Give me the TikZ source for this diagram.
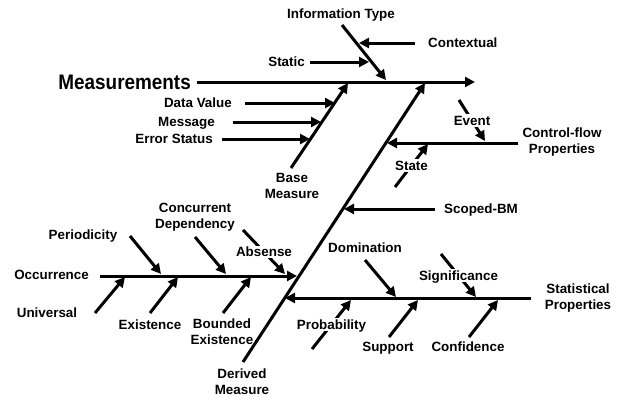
\documentclass[tikz,border=0pt]{standalone}
\usepackage{fontspec}
\setmainfont{Liberation Sans}
\newfontfamily\measfont[FakeStretch=0.9]{Liberation Sans}
\usepackage{tikz}
\usetikzlibrary{arrows.meta}

\begin{document}
\begin{tikzpicture}[x=1pt,y=1pt]
              \tikzstyle{every node}+=[inner sep=0pt]
              \tikzstyle{bone}=[black,line width=3pt,-{Triangle[length=10pt,width=10pt]}]
              \tikzstyle{lbl}=[font=\fontsize{13.4}{16}\selectfont\bfseries,align=center,text height=9.6pt,text depth=0pt]
              \tikzstyle{lbltwo}=[font=\fontsize{13.4}{16}\selectfont\bfseries,align=center]
              \tikzstyle{cut}=[lbl,fill=white,inner sep=1.5pt]
              \useasboundingbox (0,0) rectangle (621,-399);
              % heads and tails of the bones
              \coordinate (head) at (475,-82);
              \coordinate (it1) at (342,-25);
              \coordinate (it2) at (386,-80);
              \coordinate (bm1) at (291,-168);
              \coordinate (bm2) at (348,-83);
              \coordinate (dm1) at (243,-362);
              \coordinate (dm2) at (425,-83);
              \coordinate (ct) at (359,-43);
              \coordinate (st) at (369,-62);
              \coordinate (dv) at (335,-103);
              \coordinate (ms) at (321,-122);
              \coordinate (es) at (310,-139);
              \coordinate (cf) at (387,-143);
              \coordinate (ev1) at (459,-100);
              \coordinate (ev2) at (485,-141);
              \coordinate (sa1) at (395,-187);
              \coordinate (sa2) at (428,-144);
              \coordinate (sc) at (344,-209);
              \coordinate (sp) at (285,-298);
              \coordinate (dn1) at (365,-260);
              \coordinate (dn2) at (396,-297);
              \coordinate (sg1) at (441,-254);
              \coordinate (sg2) at (476,-297);
              \coordinate (pb1) at (312,-349);
              \coordinate (pb2) at (351,-300);
              \coordinate (su1) at (389,-337);
              \coordinate (su2) at (418,-300);
              \coordinate (cn1) at (469,-337);
              \coordinate (cn2) at (498,-300);
              \coordinate (oc) at (297,-276);
              \coordinate (pd1) at (130,-236);
              \coordinate (pd2) at (161,-274);
              \coordinate (cd1) at (195,-237);
              \coordinate (cd2) at (226,-274);
              \coordinate (ab1) at (243,-230);
              \coordinate (ab2) at (285,-274);
              \coordinate (un1) at (95,-313);
              \coordinate (un2) at (125,-277);
              \coordinate (ex1) at (150,-313);
              \coordinate (ex2) at (178,-277);
              \coordinate (be1) at (223,-313);
              \coordinate (be2) at (251,-277);
              % labels
              \node [anchor=east,font=\fontsize{21}{24}\measfont\bfseries] (meas) at (191,-82) {Measurements};
              \node [lbl] (infotype) at (341,-14) {Information Type};
              \node [lbl,anchor=west] (contextual) at (428,-43) {Contextual};
              \node [lbl,anchor=east] (static) at (305,-62) {Static};
              \node [lbl,anchor=east] (dataval) at (232,-103) {Data Value};
              \node [lbl,anchor=east] (message) at (215,-122) {Message};
              \node [lbl,anchor=east] (errstat) at (213,-139) {Error Status};
              \node [lbltwo] (basem) at (292,-186) {Base\\Measure};
              \node [lbltwo] (derivedm) at (242,-382) {Derived\\Measure};
              \node [lbltwo] (cflow) at (562,-142) {Control-flow\\Properties};
              \node [lbl,anchor=west] (scoped) at (444,-209) {Scoped-BM};
              \node [lbltwo] (stat) at (578,-298) {Statistical\\Properties};
              \node [lbl] (domin) at (365,-248) {Domination};
              \node [lbl] (support) at (388,-347) {Support};
              \node [lbl] (confid) at (468,-347) {Confidence};
              \node [lbl,anchor=east] (occur) at (89,-275) {Occurrence};
              \node [lbl] (period) at (83,-235) {Periodicity};
              \node [lbltwo] (concdep) at (195,-217) {Concurrent\\Dependency};
              \node [lbl] (universal) at (47,-313) {Universal};
              \node [lbl] (exist) at (150,-325) {Existence};
              \node [lbltwo] (boundex) at (222,-332) {Bounded\\Existence};
              % spine and bones
              \draw [bone,shorten <=6pt] (meas.east) -- (head);
              \draw [bone] (it1) -- (it2);
              \draw [bone] (bm1) -- (bm2);
              \draw [bone] (dm1) -- (dm2);
              \draw [bone,shorten <=13pt] (contextual.west |- ct) -- (ct);
              \draw [bone,shorten <=5pt] (static.east |- st) -- (st);
              \draw [bone,shorten <=13pt] (dataval.east |- dv) -- (dv);
              \draw [bone,shorten <=18pt] (message.east |- ms) -- (ms);
              \draw [bone,shorten <=9pt] (errstat.east |- es) -- (es);
              \draw [bone,shorten <=4pt] (cflow.west |- cf) -- (cf);
              \draw [bone] (ev1) -- (ev2) node [cut,midway] (event) {Event};
              \draw [bone] (sa1) -- (sa2) node [cut,midway] (state) {State};
              \draw [bone,shorten <=9pt] (scoped.west |- sc) -- (sc);
              \draw [bone,shorten <=14pt] (stat.west |- sp) -- (sp);
              \draw [bone] (dn1) -- (dn2);
              \draw [bone] (sg1) -- (sg2) node [cut,midway] (signif) {Significance};
              \draw [bone] (pb1) -- (pb2) node [cut,midway] (prob) {Probability};
              \draw [bone] (su1) -- (su2);
              \draw [bone] (cn1) -- (cn2);
              \draw [bone,shorten <=11pt] (occur.east |- oc) -- (oc);
              \draw [bone] (pd1) -- (pd2);
              \draw [bone] (cd1) -- (cd2);
              \draw [bone] (ab1) -- (ab2) node [cut,midway] (absense) {Absense};
              \draw [bone] (un1) -- (un2);
              \draw [bone] (ex1) -- (ex2);
              \draw [bone] (be1) -- (be2);
            \end{tikzpicture}
\end{document}
